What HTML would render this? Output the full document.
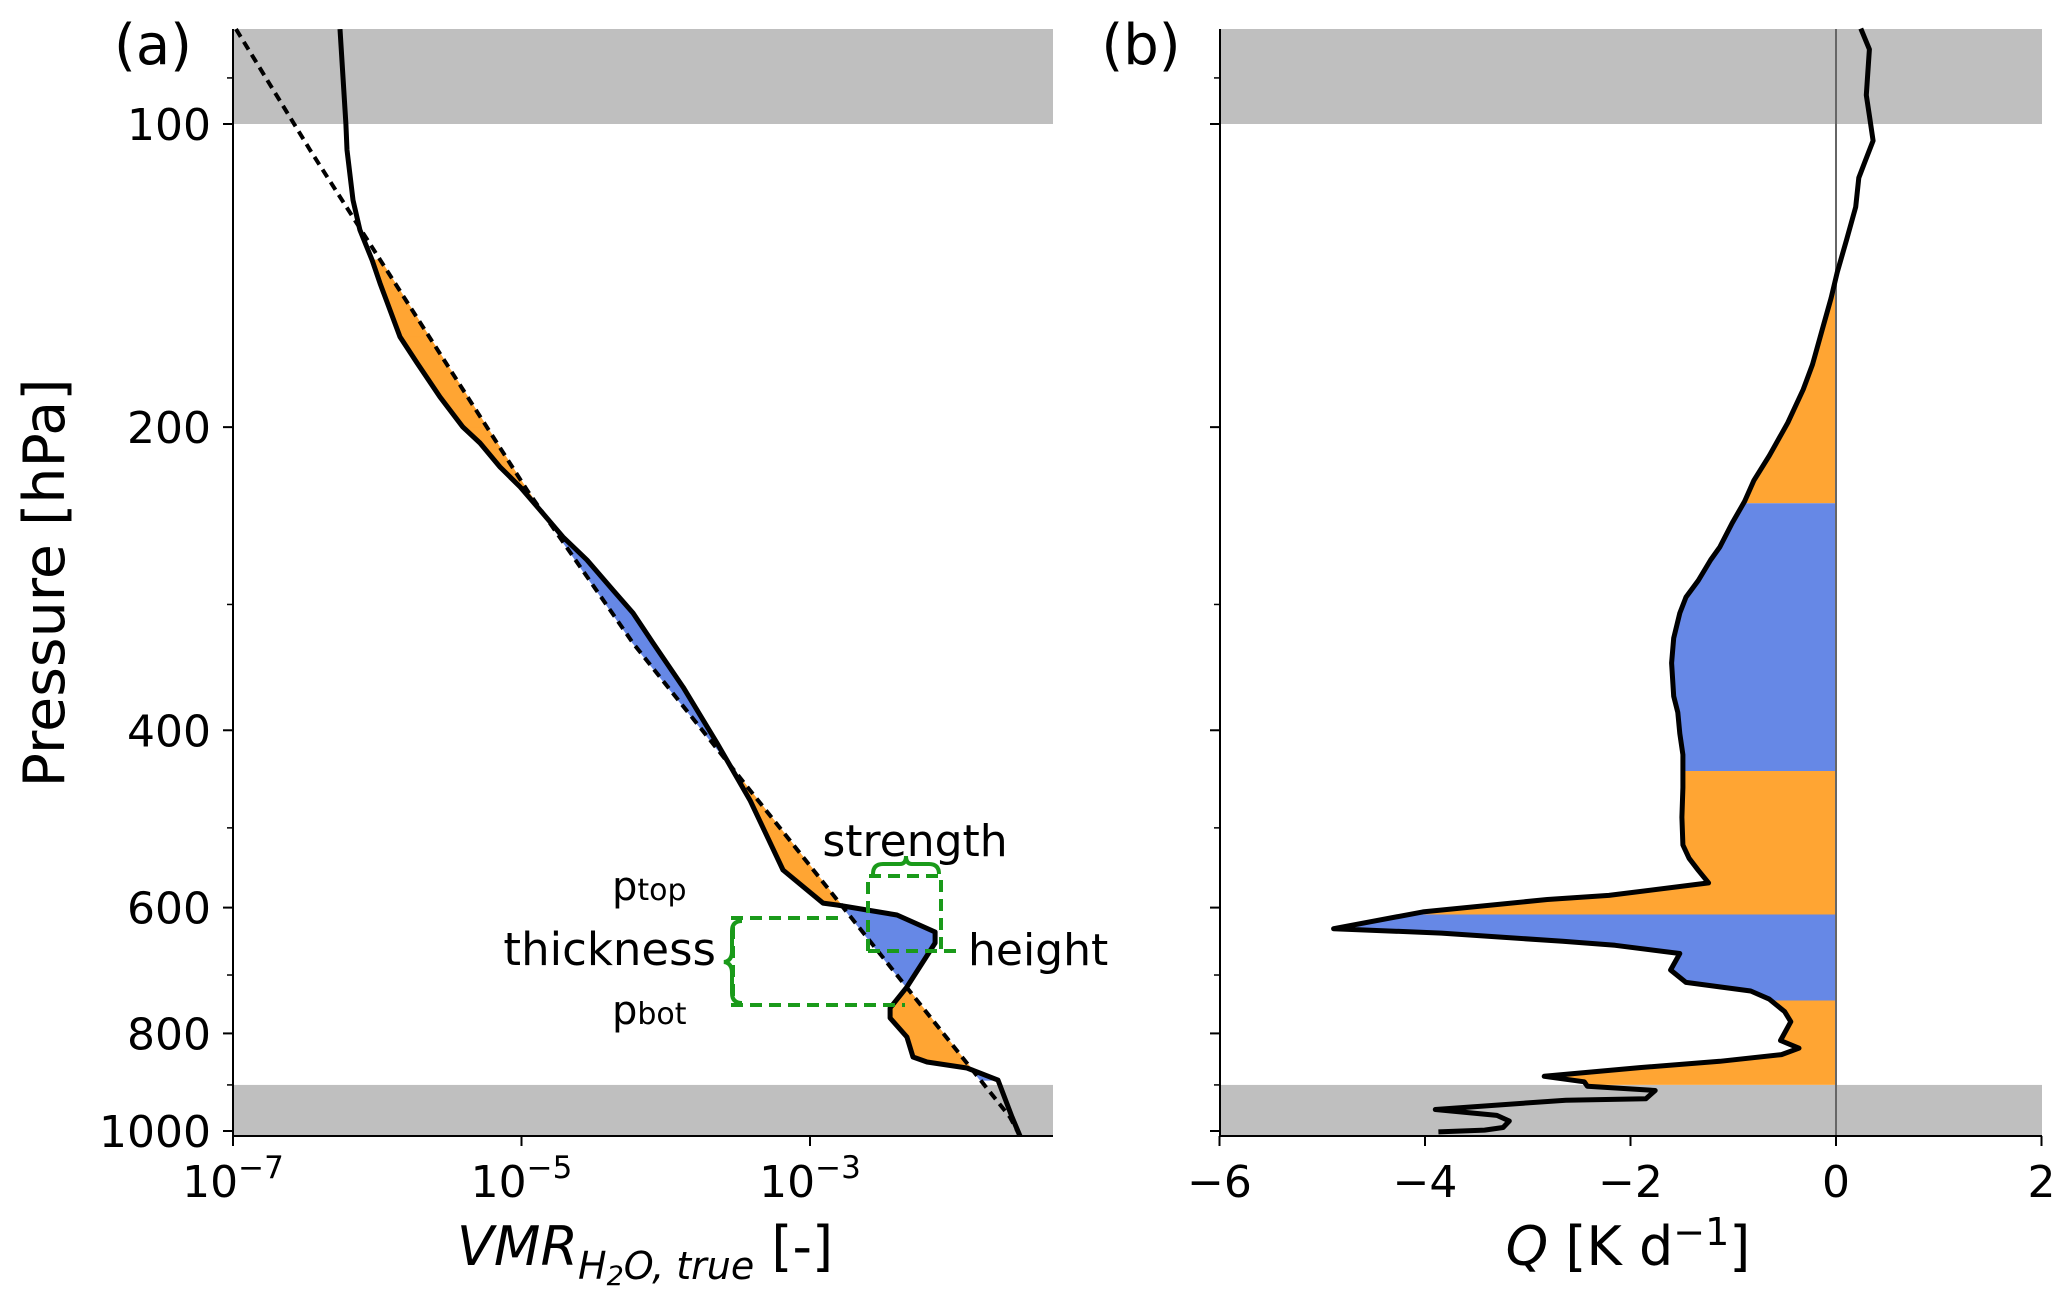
<!DOCTYPE html>
<html><head><meta charset="utf-8"><style>
html,body{margin:0;padding:0;background:#fff;}
svg{display:block;font-family:"DejaVu Sans","Liberation Sans",sans-serif;}
</style></head><body>
<svg id="chart" width="2067" height="1300" viewBox="0 0 2067 1300" xmlns="http://www.w3.org/2000/svg">
<g id="bg"></g>
<g id="fills"></g>
<g id="lines"></g>
<g id="axes"></g>
<g id="annot">
  <text x="153" y="64" font-size="56" text-anchor="middle">(a)</text>
  <text x="1141" y="64" font-size="56" text-anchor="middle">(b)</text>
  <text transform="translate(64,583) rotate(-90)" font-size="57" text-anchor="middle">Pressure [hPa]</text>
  <text x="645" y="1265" font-size="54" text-anchor="middle"><tspan font-style="italic">VMR</tspan><tspan font-style="italic" font-size="38" dy="14">H</tspan><tspan font-style="italic" font-size="27" dy="6">2</tspan><tspan font-style="italic" font-size="38" dy="-6">O, true</tspan><tspan dy="-14"> [-]</tspan></text>
  <text x="1628" y="1265" font-size="54" text-anchor="middle"><tspan font-style="italic">Q</tspan> [K d<tspan font-size="38" dy="-20">−1</tspan><tspan dy="20">]</tspan></text>
  <g stroke="#1a9a1a" stroke-width="4" fill="none" stroke-dasharray="12,7">
    <polyline points="868,951 868,876 941,876 941,951"/>
    <line x1="868" y1="951" x2="962" y2="951"/>
    <polyline points="838,918 733,918 733,1005 905,1005"/>
  </g>
  <path d="M873,874 q0,-10 10,-10 h17 q6,0 6,-8 q0,8 6,8 h17 q10,0 10,10" stroke="#1a9a1a" stroke-width="4" fill="none"/>
  <path d="M742,921 q-10,0 -10,10 v20 q0,10 -8,11 q8,1 8,11 v20 q0,10 10,10" stroke="#1a9a1a" stroke-width="4" fill="none"/>
  <text x="915" y="856" font-size="44" text-anchor="middle">strength</text>
  <text x="612" y="900" font-size="40">p<tspan font-size="30">top</tspan></text>
  <text x="716" y="965" font-size="45" text-anchor="end">thickness</text>
  <text x="612" y="1024" font-size="40">p<tspan font-size="30">bot</tspan></text>
  <text x="968" y="965" font-size="44">height</text>
</g>
</svg>
<script>
// ---- data panel (a) ----
const vmrP = [80.5,100,106.1,119.0,127.4,136.5,143.9,162.7,172.7,186.7,200.0,207.4,219.1,229.3,241.7,257.1,271.0,290.3,305.9,327.7,362.4,411.8,469.3,550.6,593.8,596.5,610.3,634.5,650.6,719.5,754.8,772.3,806.6,844.3,854.1,865.9,890.1,968.5,1011.6];
const vmrLog = [-6.258,-6.217,-6.210,-6.168,-6.120,-6.036,-5.981,-5.842,-5.724,-5.565,-5.406,-5.288,-5.149,-5.010,-4.872,-4.712,-4.546,-4.366,-4.227,-4.088,-3.880,-3.645,-3.416,-3.187,-2.910,-2.813,-2.397,-2.133,-2.133,-2.328,-2.445,-2.445,-2.328,-2.286,-2.189,-1.912,-1.697,-1.600,-1.544];
const refP = [80.5,106.1,230.9,327.7,863.9,968.5,1011.6];
const refLog = [-6.979,-6.466,-4.962,-4.227,-1.891,-1.614,-1.544];
// ---- data panel (b) ----
const qP = [80.4,84.3,93.6,98.1,103.9,108.9,113.1,120.9,130.4,140.4,148.9,160.6,173.3,183.5,198,213.5,226,237,249,263,271,284,295,306,324,343,370,384,403,423,456,488,520,536,551,567,583.5,589,606,629.6,636,648,654,666.4,692,712,726,739.6,761,778.8,813,827.6,839.8,852.6,865,882.5,893.6,902.6,911.5,928.8,932,952,965,977.5,992,998,1002];
const qVal = [0.241,0.325,0.295,0.325,0.361,0.283,0.222,0.192,0.102,0.012,-0.048,-0.138,-0.229,-0.319,-0.469,-0.649,-0.8,-0.89,-1.01,-1.13,-1.22,-1.34,-1.46,-1.52,-1.58,-1.60,-1.58,-1.54,-1.52,-1.49,-1.49,-1.50,-1.49,-1.43,-1.34,-1.24,-2.21,-2.81,-4.02,-4.89,-3.84,-2.66,-2.15,-1.52,-1.61,-1.46,-0.83,-0.65,-0.50,-0.44,-0.54,-0.36,-0.53,-1.13,-1.91,-2.84,-2.45,-2.42,-1.76,-1.85,-2.63,-3.90,-3.30,-3.18,-3.24,-3.42,-3.87];
const bandTop = [129,238,439,609.5,742];
const bandBot = [238,439,609.5,742,900];
const bandKind = ['warm','cool','warm','cool','warm'];
const pTicks = [100,200,400,600,800,1000];
const pMinor = [90,300,500,700,900];
const xTicksA = [-7,-5,-3];
const xTicksB = [-6,-4,-2,0,2];

const ORANGE='#ffa533', BLUE='#6688e6', GREY='#bfbfbf';
const NS='http://www.w3.org/2000/svg';
const yP = p => 124 + 1007*Math.log10(p/100);
const xA = l => 233 + (l+7)*144.25;
const xB = q => 1836 + q*102.75;
const TOP=29, BOT=1136, AL=233, AR=1053, BL=1220, BR=2042;
function mk(parent,tag,attrs){const e=document.createElementNS(NS,tag);for(const k in attrs)e.setAttribute(k,attrs[k]);document.getElementById(parent).appendChild(e);return e;}
function refAt(p){
  const lp=Math.log10(p);
  for(let i=0;i<refP.length-1;i++){
    const a=Math.log10(refP[i]),b=Math.log10(refP[i+1]);
    if(lp<=b||i===refP.length-2){const t=(lp-a)/(b-a);return refLog[i]+t*(refLog[i+1]-refLog[i]);}
  }
}

// grey bands
[[AL,AR],[BL,BR]].forEach((r,i)=>{
  let e=mk('bg','rect',{x:r[0],y:TOP,width:r[1]-r[0],height:yP(100)-TOP,fill:GREY});
  
  
  e=mk('bg','rect',{x:r[0],y:yP(900),width:r[1]-r[0],height:BOT-yP(900),fill:GREY});
  
  
});

// panel a fills
for(let i=0;i<vmrP.length-1;i++){
  let p0=vmrP[i],p1=vmrP[i+1];
  if(Math.min(p0,p1)<136||Math.max(p0,p1)>900) continue;
  let v0=vmrLog[i],v1=vmrLog[i+1],d0=v0-refAt(p0),d1=v1-refAt(p1);
  let segs=[];
  if(d0*d1<0){const t=d0/(d0-d1);const pc=Math.pow(10,Math.log10(p0)+t*(Math.log10(p1)-Math.log10(p0)));const vc=v0+t*(v1-v0);segs.push([p0,v0,pc,vc,d0]);segs.push([pc,vc,p1,v1,d1]);}
  else segs.push([p0,v0,p1,v1,d0+d1]);
  segs.forEach(s=>{
    const c=s[4]<0?ORANGE:BLUE;
    const pts=[[xA(s[1]),yP(s[0])],[xA(s[3]),yP(s[2])],[xA(refAt(s[2])),yP(s[2])],[xA(refAt(s[0])),yP(s[0])]];
    const e=mk('fills','polygon',{points:pts.map(q=>q.join(',')).join(' '),fill:c,stroke:c,'stroke-width':1});
    
    
  });
}
// panel b fills
const qPoly=qP.map((p,i)=>[xB(qVal[i]),yP(p)]);
qPoly.push([xB(0),yP(qP[qP.length-1])]);qPoly.unshift([xB(0),yP(qP[0])]);
const defs=mk('fills','defs',{});
bandTop.forEach((t,i)=>{
  const cp=document.createElementNS(NS,'clipPath');cp.setAttribute('id','band'+i);
  const r=document.createElementNS(NS,'rect');r.setAttribute('x',BL);r.setAttribute('y',yP(t));r.setAttribute('width',xB(0)-BL);r.setAttribute('height',yP(bandBot[i])-yP(t));
  cp.appendChild(r);defs.appendChild(cp);
  const c=bandKind[i]==='warm'?ORANGE:BLUE;
  const e=mk('fills','polygon',{points:qPoly.map(q=>q.join(',')).join(' '),fill:c,'clip-path':'url(#band'+i+')'});
  
  
});

// lines
let e=mk('lines','line',{x1:xB(0),y1:TOP,x2:xB(0),y2:BOT,stroke:'#666','stroke-width':2});


e=mk('lines','polyline',{points:refP.map((p,i)=>xA(refLog[i]).toFixed(1)+','+yP(p).toFixed(1)).join(' '),fill:'none',stroke:'#000','stroke-width':4,'stroke-dasharray':'9,6'});


e=mk('lines','polyline',{points:vmrP.map((p,i)=>xA(vmrLog[i]).toFixed(1)+','+yP(p).toFixed(1)).join(' '),fill:'none',stroke:'#000','stroke-width':5,'stroke-linejoin':'round'});


e=mk('lines','polyline',{points:qP.map((p,i)=>xB(qVal[i]).toFixed(1)+','+yP(p).toFixed(1)).join(' '),fill:'none',stroke:'#000','stroke-width':5,'stroke-linejoin':'round'});



// axes
[[AL,'a'],[BL,'b']].forEach(([x0,n])=>{
  let e=mk('axes','line',{x1:x0,y1:TOP,x2:x0,y2:BOT,stroke:'#000','stroke-width':2});
  
  
  pTicks.forEach(p=>{
    let t=mk('axes','line',{x1:x0-10,y1:yP(p),x2:x0,y2:yP(p),stroke:'#000','stroke-width':2});
    
    
    if(n==='a'){
      let l=mk('axes','text',{x:x0-22,y:yP(p)+16,'font-size':44,'text-anchor':'end'});
      
      
      l.textContent=p;
    }
  });
  pMinor.forEach(p=>{
    let t=mk('axes','line',{x1:x0-6,y1:yP(p),x2:x0,y2:yP(p),stroke:'#000','stroke-width':1.5});
    
    
  });
});
e=mk('axes','line',{x1:AL,y1:BOT,x2:AR,y2:BOT,stroke:'#000','stroke-width':2});


e=mk('axes','line',{x1:BL,y1:BOT,x2:BR,y2:BOT,stroke:'#000','stroke-width':2});


xTicksA.forEach(v=>{
  let t=mk('axes','line',{x1:xA(v),y1:BOT,x2:xA(v),y2:BOT+10,stroke:'#000','stroke-width':2});
  
  
  let l=mk('axes','text',{x:xA(v),y:1197,'font-size':44,'text-anchor':'middle'});
  
  
  l.innerHTML='10<tspan font-size="31" dy="-19">−'+(-v)+'</tspan>';
});
xTicksB.forEach(v=>{
  let t=mk('axes','line',{x1:xB(v),y1:BOT,x2:xB(v),y2:BOT+10,stroke:'#000','stroke-width':2});
  
  
  let l=mk('axes','text',{x:xB(v),y:1197,'font-size':44,'text-anchor':'middle'});
  
  
  l.textContent=(v<0?'−'+(-v):v);
});
</script>
</body></html>
